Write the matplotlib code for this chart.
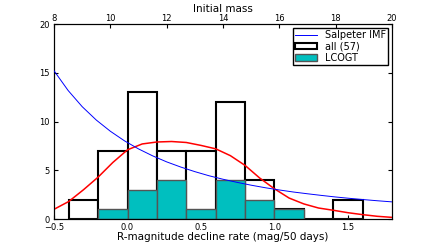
import matplotlib.pyplot as plt
import numpy as np

# histogram bins (R-band decline rate, mag/50 days)
bin_edges = [-0.4, -0.2, 0.0, 0.2, 0.4, 0.6, 0.8, 1.0, 1.2, 1.4, 1.6]
all_counts = [2, 7, 13, 7, 7, 12, 4, 1, 0, 2]
lcogt_counts = [0, 1, 3, 4, 1, 4, 2, 1, 0, 0]

# red curve
curve_x = [-0.5, -0.4, -0.3, -0.2, -0.1, 0.0, 0.1, 0.2, 0.3, 0.4, 0.5, 0.6,
           0.7, 0.8, 0.9, 1.0, 1.1, 1.2, 1.3, 1.4, 1.5, 1.6, 1.7, 1.8]
curve_y = [1.0, 1.8, 3.0, 4.3, 5.8, 7.1, 7.7, 7.9, 7.95, 7.85, 7.55, 7.2,
           6.5, 5.5, 4.2, 3.1, 2.15, 1.55, 1.13, 0.9, 0.65, 0.45, 0.28, 0.17]

# Salpeter IMF curve against initial mass (top axis)
imf_mass = [8, 8.5, 9, 9.5, 10, 10.5, 11, 11.5, 12, 12.5, 13, 13.5, 14,
            14.5, 15, 15.5, 16, 16.5, 17, 17.5, 18, 18.5, 19, 19.5, 20]
imf_y = [15.2, 13.18, 11.52, 10.15, 9.00, 8.02, 7.19, 6.48, 5.86, 5.33, 4.86,
         4.44, 4.08, 3.76, 3.47, 3.21, 2.98, 2.77, 2.59, 2.42, 2.26, 2.12,
         1.99, 1.87, 1.76]

fig = plt.figure(figsize=(4.36, 2.45), dpi=100)
ax = fig.add_axes([0.124, 0.106, 0.775, 0.796])

left = bin_edges[:-1]
width = np.diff(bin_edges)
ax.bar(left, all_counts, width=width, align="edge", facecolor="white",
       edgecolor="black", linewidth=1.5, label="all (57)", zorder=1)
ax.bar(left, lcogt_counts, width=width, align="edge", facecolor="#00BFBF",
       edgecolor="#555555", linewidth=1.0, label="LCOGT", zorder=2)
ax.plot(curve_x, curve_y, color="red", linewidth=1.1, zorder=3)

ax.set_xlim(-0.5, 1.8)
ax.set_ylim(0, 20)
ax.set_xticks([-0.5, 0.0, 0.5, 1.0, 1.5])
ax.set_yticks([0, 5, 10, 15, 20])
ax.tick_params(direction="in", labelsize=6, length=3, right=True)
ax.tick_params(axis="x", pad=3)
ax.tick_params(axis="y", pad=3)
ax.set_xlabel("R-magnitude decline rate (mag/50 days)", fontsize=7.5, labelpad=0)

ax2 = ax.twiny()
ax2.plot(imf_mass, imf_y, color="blue", linewidth=0.7, label="Salpeter IMF", zorder=3)
ax2.set_xlim(8, 20)
ax2.set_xticks([8, 10, 12, 14, 16, 18, 20])
ax2.tick_params(direction="in", labelsize=6, length=3, pad=1)
ax2.set_xlabel("Initial mass", fontsize=7.5, labelpad=1)

h1, l1 = ax2.get_legend_handles_labels()
h2, l2 = ax.get_legend_handles_labels()
ax2.legend(h1 + h2, l1 + l2, loc="upper right", fontsize=7, frameon=True,
           fancybox=False, edgecolor="black", framealpha=1, borderaxespad=0.4,
           handlelength=2.2, labelspacing=0.12, borderpad=0.25)

plt.savefig("out.png", dpi=100)
plt.close()
